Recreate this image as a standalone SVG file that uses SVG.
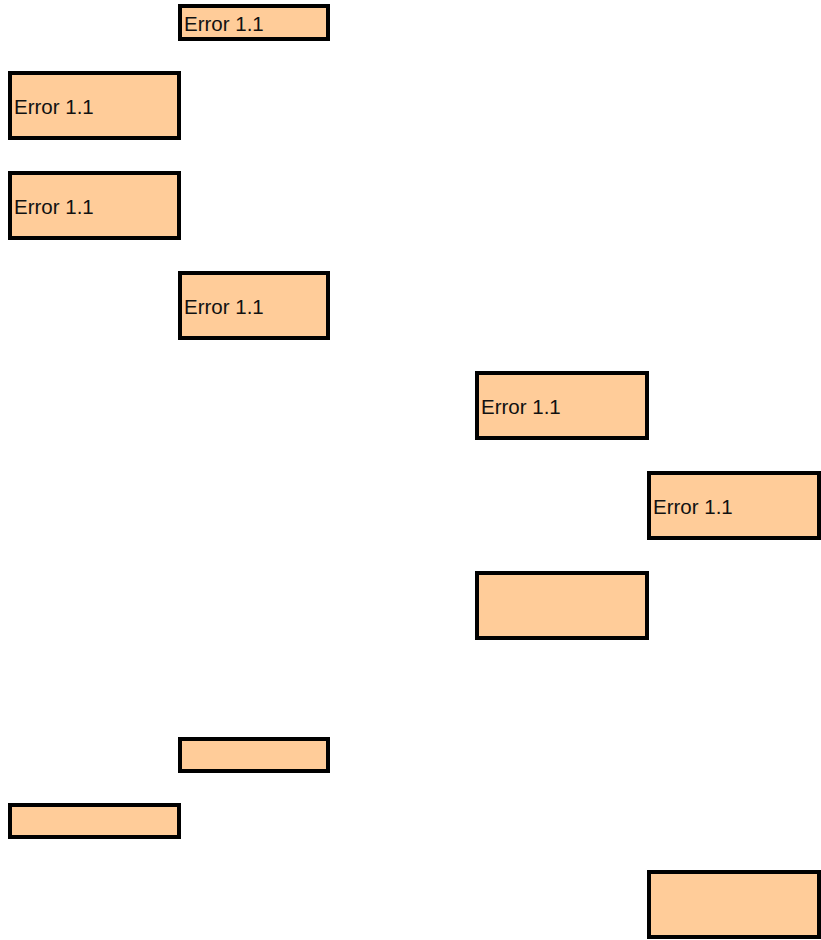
<svg xmlns="http://www.w3.org/2000/svg" width="821" height="940" viewBox="0 0 821 940">
<style>
.b{fill:#FFCC99;stroke:#000;stroke-width:4}
.t{font-family:"Liberation Sans",Arial,sans-serif;font-size:20.5px;fill:#111;dominant-baseline:central}
</style>
<rect width="821" height="940" fill="#fff"/>
<g id="n1"><rect class="b" x="180" y="6" width="148" height="33"/><text class="t" x="184" y="23">Error 1.1</text></g>
<g id="n2"><rect class="b" x="10" y="73" width="169" height="65"/><text class="t" x="14" y="106">Error 1.1</text></g>
<g id="n3"><rect class="b" x="10" y="173" width="169" height="65"/><text class="t" x="14" y="206">Error 1.1</text></g>
<g id="n4"><rect class="b" x="180" y="273" width="148" height="65"/><text class="t" x="184" y="306">Error 1.1</text></g>
<g id="n5"><rect class="b" x="477" y="373" width="170" height="65"/><text class="t" x="481" y="406">Error 1.1</text></g>
<g id="n6"><rect class="b" x="649" y="473" width="170" height="65"/><text class="t" x="653" y="506">Error 1.1</text></g>
<g id="n7"><rect class="b" x="477" y="573" width="170" height="65"/></g>
<g id="n8"><rect class="b" x="180" y="739" width="148" height="32"/></g>
<g id="n9"><rect class="b" x="10" y="805" width="169" height="32"/></g>
<g id="n10"><rect class="b" x="649" y="872" width="170" height="65"/></g>
<g id="connectors"></g>
</svg>
